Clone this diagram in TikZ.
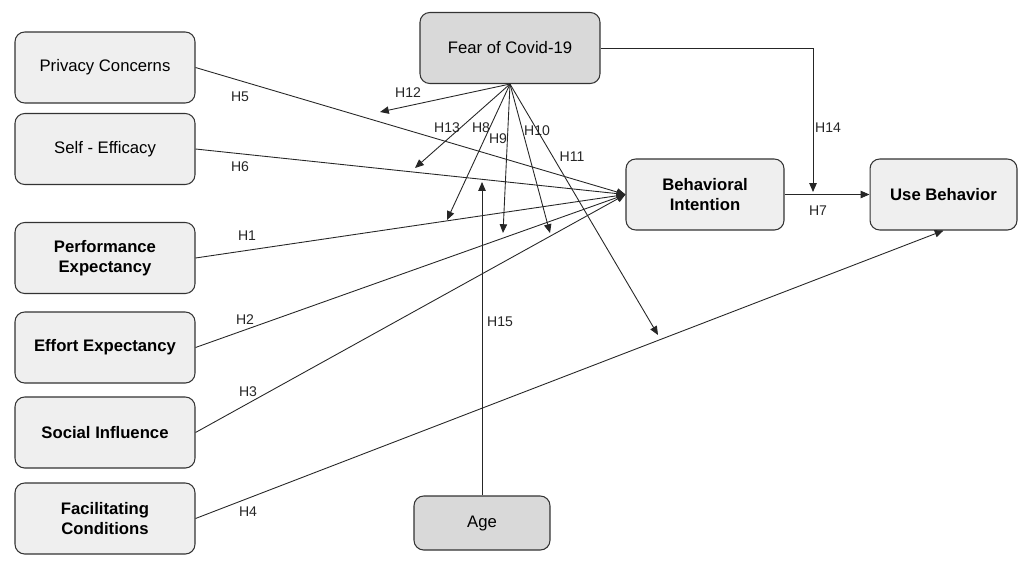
\documentclass[tikz,border=0pt]{standalone}
\usepackage{fontspec}
\setmainfont{Liberation Sans}
\usetikzlibrary{arrows.meta}
\definecolor{boxlight}{HTML}{EFEFEF}
\definecolor{boxdark}{HTML}{D9D9D9}
\tikzset{
  construct/.style={draw=black!80, line width=.6pt, rounded corners=5.5pt, fill=boxlight,
    minimum width=3.6cm, minimum height=1.42cm, align=center, inner sep=2pt, font=\fontsize{9.5}{11.5}\selectfont},
  moderator/.style={construct, fill=boxdark},
  path/.style={draw=black!85, line width=.5pt, -{Triangle[length=5pt,width=4.2pt]}},
  hyp/.style={font=\fontsize{8}{9}\selectfont, inner sep=1pt, text=black!85}
}
\begin{document}
\begin{tikzpicture}[x=0.02cm, y=-0.02cm]
\useasboundingbox[fill=white] (0,0) rectangle (1020,565);
% constructs
\node[construct] (pc) at (105,67.5) {Privacy Concerns};
\node[construct] (se) at (105,149) {Self - Efficacy};
\node[construct, font=\bfseries\fontsize{9.5}{11.5}\selectfont] (pe) at (105,258) {Performance\\Expectancy};
\node[construct, font=\bfseries\fontsize{9.5}{11.5}\selectfont] (ee) at (105,347.5) {Effort Expectancy};
\node[construct, font=\bfseries\fontsize{9.5}{11.5}\selectfont] (si) at (105,432.5) {Social Influence};
\node[construct, font=\bfseries\fontsize{9.5}{11.5}\selectfont] (fc) at (105,518.5) {Facilitating\\Conditions};
\node[moderator] (fear) at (510,48) {Fear of Covid-19};
\node[construct, minimum width=3.16cm, font=\bfseries\fontsize{9.5}{11.5}\selectfont] (bi) at (705,194.5) {Behavioral\\Intention};
\node[construct, minimum width=2.94cm, font=\bfseries\fontsize{9.5}{11.5}\selectfont] (ub) at (943.5,194.5) {Use Behavior};
\node[moderator, minimum width=2.72cm, minimum height=1.08cm] (age) at (482,523) {Age};
% free ends of moderating paths
\coordinate (e12) at (380,112);
\coordinate (e13) at (415,168);
\coordinate (e8) at (447,220);
\coordinate (e9) at (503,233);
\coordinate (e10) at (550,233);
\coordinate (e11) at (658,335);
\coordinate (e15) at (482,182);
\coordinate (e14) at (813,192);
\coordinate (c14) at (813,48);
% direct paths
\draw[path] (pc.east) -- (bi.west);
\draw[path] (se.east) -- (bi.west);
\draw[path] (pe.east) -- (bi.west);
\draw[path] (ee.east) -- (bi.west);
\draw[path] (si.east) -- (bi.west);
\draw[path] (fc.east) -- (ub.south);
\draw[path] (bi.east) -- (ub.west);
% moderating paths
\draw[path] (fear.south) -- (e12);
\draw[path] (fear.south) -- (e13);
\draw[path] (fear.south) -- (e8);
\draw[path] (fear.south) -- (e9);
\draw[path] (fear.south) -- (e10);
\draw[path] (fear.south) -- (e11);
\draw[path] (fear.east) -- (c14) -- (e14);
\draw[path] (age.north) -- (e15);
% hypotheses
\node[hyp] (h5) at (240,97) {H5};
\node[hyp] (h6) at (240,167) {H6};
\node[hyp] (h1) at (247,236) {H1};
\node[hyp] (h2) at (245,320) {H2};
\node[hyp] (h3) at (248,392) {H3};
\node[hyp] (h4) at (248,512) {H4};
\node[hyp] (h12) at (408,93) {H12};
\node[hyp] (h13) at (447,128) {H13};
\node[hyp] (h8) at (481,128) {H8};
\node[hyp] (h9) at (498,139) {H9};
\node[hyp] (h10) at (537,131) {H10};
\node[hyp] (h11) at (572,157) {H11};
\node[hyp] (h14) at (828,128) {H14};
\node[hyp] (h7) at (818,211) {H7};
\node[hyp] (h15) at (500,322) {H15};
\end{tikzpicture}
\end{document}
